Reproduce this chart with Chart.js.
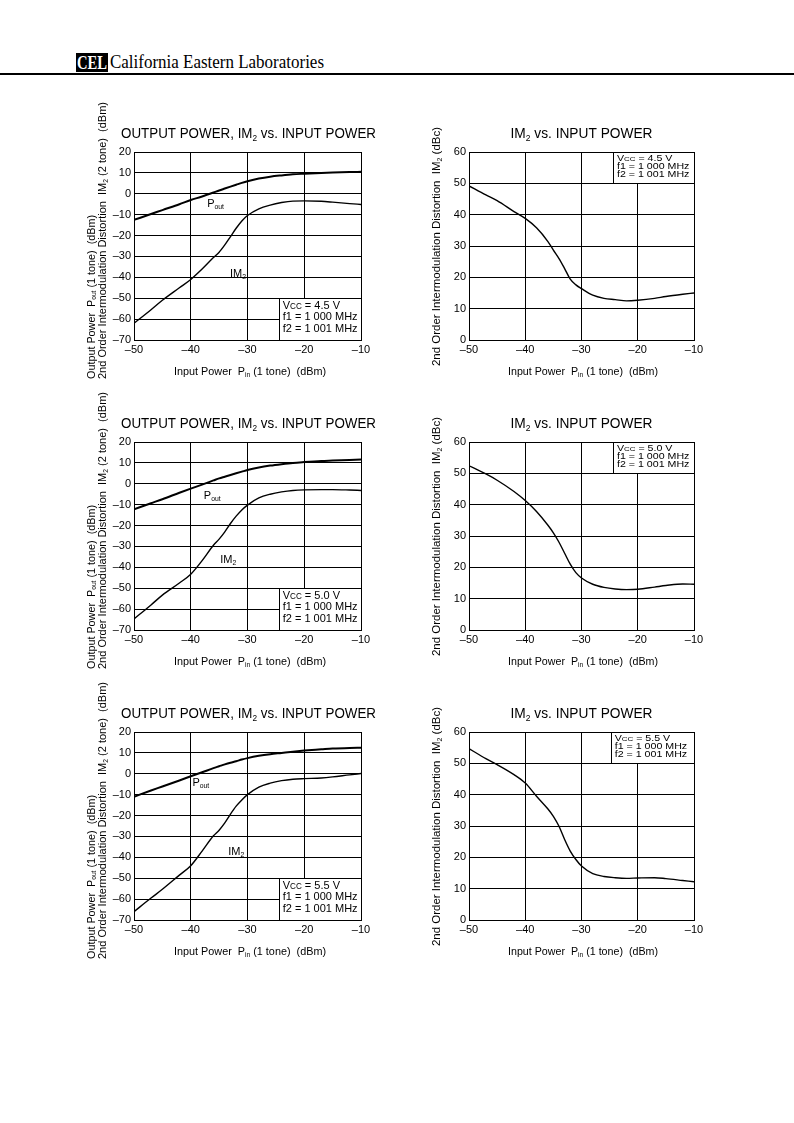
<!DOCTYPE html>
<html lang="en">
<head>
<meta charset="utf-8" />
<title>Output Power, IM2 vs. Input Power</title>
<script src="https://cdn.jsdelivr.net/npm/chart.js@4.4.0/dist/chart.umd.min.js"></script>
<style>
  body { margin: 0; background: #fff; }
  #page { position: relative; width: 794px; height: 1123px; background: #fff; overflow: hidden; }
  #cel {
    position: absolute; left: 76px; top: 53px; width: 32px; height: 19px;
    background: #000; color: #fff; overflow: hidden;
  }
  #cel span {
    position: absolute; left: 1px; top: 0; display: inline-block; white-space: nowrap;
    font: bold 18px "Liberation Serif", "DejaVu Serif", serif; line-height: 20px; transform-origin: 0 0;
  }
  #cal {
    position: absolute; left: 110px; top: 52px; white-space: nowrap;
    font: 19px "Liberation Serif", "DejaVu Serif", serif; line-height: 19px; transform-origin: 0 0;
  }
  #rule { position: absolute; left: 0; top: 73px; width: 794px; height: 1.5px; background: #000; }
  canvas { position: absolute; }
</style>
</head>
<body>
<div id="page">
  <div id="cel"><span>CEL</span></div>
  <div id="cal">California Eastern Laboratories</div>
  <div id="rule"></div>

  <canvas id="c1" width="320" height="290" style="left:80px;top:100px"></canvas>
  <canvas id="c2" width="300" height="290" style="left:420px;top:100px"></canvas>
  <canvas id="c3" width="320" height="290" style="left:80px;top:390px"></canvas>
  <canvas id="c4" width="300" height="290" style="left:420px;top:390px"></canvas>
  <canvas id="c5" width="320" height="290" style="left:80px;top:680px"></canvas>
  <canvas id="c6" width="300" height="290" style="left:420px;top:680px"></canvas>
</div>

<script>
  // input power (dBm), shared x values for every curve
  const inputPower = [-50, -47, -45, -42, -40, -38, -36, -35, -34, -33, -32, -31, -30, -28, -26, -24, -22, -20, -17, -15, -12, -10];

  // Vcc = 4.5 V
  const pout45 = [-12.5, -9.7, -7.8, -5.0, -3.0, -1.3, 0.6, 1.6, 2.5, 3.4, 4.3, 5.2, 6.0, 7.3, 8.2, 8.8, 9.3, 9.6, 10.0, 10.2, 10.4, 10.5];
  const im2dBm45 = [-62, -55.5, -51, -45, -41, -36, -30.5, -28, -24.5, -20.5, -16.5, -13, -10.4, -7.2, -5.4, -4.2, -3.5, -3.4, -3.6, -4.0, -4.7, -5.1];
  const im2dBc45 = [49.2, 46.3, 44.5, 41, 38.8, 35.8, 31.5, 28.7, 26, 22.8, 19.4, 17.6, 16.4, 14.3, 13.3, 12.9, 12.5, 12.7, 13.3, 13.9, 14.6, 15.0];

  // Vcc = 5.0 V
  const pout50 = [-12.2, -9.3, -7.4, -4.3, -2.3, -0.4, 1.6, 2.6, 3.4, 4.2, 5.0, 5.8, 6.6, 7.8, 8.7, 9.4, 10.0, 10.4, 10.9, 11.1, 11.4, 11.6];
  const im2dBm50 = [-64.7, -58, -53.3, -47.5, -43.3, -36.8, -29.4, -26.5, -23, -19, -15.5, -12.5, -10.2, -6.8, -5.0, -3.9, -3.2, -2.9, -2.8, -2.8, -3.0, -3.2];
  const im2dBc50 = [52.4, 49.8, 47.8, 44.2, 41.3, 37.8, 33.5, 31, 28, 24.5, 21, 18.3, 16.6, 14.6, 13.6, 13.1, 12.9, 13.0, 13.7, 14.2, 14.7, 14.6];

  // Vcc = 5.5 V
  const pout55 = [-11, -8, -6.1, -3.2, -1.2, 0.7, 2.7, 3.6, 4.5, 5.3, 6.0, 6.8, 7.5, 8.6, 9.4, 10.0, 10.6, 11.1, 11.7, 12.1, 12.4, 12.5];
  const im2dBm55 = [-66, -59.5, -55.3, -48.5, -44, -37, -29.7, -27, -23.5, -19.3, -15.5, -12.5, -10, -6.4, -4.5, -3.3, -2.6, -2.3, -2.0, -1.5, -0.5, 0.1];
  const im2dBc55 = [54.7, 51.5, 49.6, 46.4, 43.7, 39.5, 35.5, 33.1, 29.9, 25.7, 22, 19.3, 17.2, 14.8, 13.9, 13.5, 13.3, 13.4, 13.5, 13.2, 12.6, 12.2];

  const xTicks = [-50, -40, -30, -20, -10];
  const dBmRange = [-70, 20];
  const dBcRange = [0, 60];
  const vccValues = ['4.5', '5.0', '5.5'];
  const f1Text = 'f1 = 1 000 MHz';
  const f2Text = 'f2 = 1 001 MHz';

  const FONT = '"Liberation Sans", Arial, Helvetica, sans-serif';
  const SUB = s => '_' + s;   // subscript part
  const SML = s => '~' + s;   // small caps part

  // header text fitted to the scanned width
  const cal = document.getElementById('cal');
  cal.style.transform = 'scaleX(' + (214 / cal.getBoundingClientRect().width) + ')';
  const cel = document.querySelector('#cel span');
  cel.style.transform = 'scaleX(' + (30 / cel.getBoundingClientRect().width) + ')';

  // text with subscripts, optional rotation and width fitting
  function drawRich(ctx, parts, x, y, size, o) {
    o = o || {};
    const segs = parts.map(p => {
      const sub = p[0] === '_', sml = p[0] === '~';
      const t = (sub || sml) ? p.slice(1) : p;
      const s = sub ? size * 0.62 : sml ? size * 0.74 : size;
      ctx.font = s + 'px ' + FONT;
      return { t: t, s: s, dy: sub ? size * 0.18 : 0, w: ctx.measureText(t).width };
    });
    const w = segs.reduce((acc, g) => acc + g.w, 0);
    const sx = o.fit ? o.fit / w : (o.sx || 1);
    ctx.save();
    ctx.translate(x, y);
    if (o.rot) ctx.rotate(o.rot);
    ctx.scale(sx, 1);
    let cx = o.align === 'center' ? -w / 2 : o.align === 'right' ? -w : 0;
    ctx.fillStyle = '#000';
    ctx.textAlign = 'left';
    ctx.textBaseline = 'alphabetic';
    segs.forEach(g => {
      ctx.font = g.s + 'px ' + FONT;
      ctx.fillText(g.t, cx, g.dy);
      cx += g.w;
    });
    ctx.restore();
  }

  const fmt = v => (v < 0 ? '\u2013' + Math.abs(v) : String(v));

  function decoPlugin(spec) {
    return {
      id: 'deco',
      beforeDatasetsDraw(chart) {
        const { ctx, scales: { x, y } } = chart;
        const b = spec.box;
        const l = Math.round(x.getPixelForValue(b[0])) + 0.5;
        const r = Math.round(x.getPixelForValue(b[1])) + 0.5;
        const t = Math.round(y.getPixelForValue(b[3])) + 0.5;
        const btm = Math.round(y.getPixelForValue(b[2])) + 0.5;
        ctx.save();
        ctx.fillStyle = '#fff';
        ctx.fillRect(l, t, r - l, btm - t);
        ctx.strokeStyle = '#000';
        ctx.lineWidth = 1;
        ctx.strokeRect(l, t, r - l, btm - t);
        ctx.restore();
      },
      afterDraw(chart) {
        const { ctx, chartArea: a, scales: { x, y } } = chart;
        const mid = (a.left + a.right) / 2;
        const boxLeft = x.getPixelForValue(spec.box[0]);
        const vccLine = ['V', SML('CC'), ' = ' + spec.vcc + ' V'];
        if (spec.left) {
          drawRich(ctx, ['OUTPUT POWER, IM', SUB('2'), ' vs. INPUT POWER'], mid + 1, a.top - 14, 14, { align: 'center', fit: 255 });
          drawRich(ctx, ['Input Power  P', SUB('in'), ' (1 tone)  (dBm)'], mid + 2.5, a.bottom + 35, 11, { align: 'center', fit: 152 });
          drawRich(ctx, ['Output Power  P', SUB('out'), ' (1 tone)  (dBm)'], a.left - 39.5, a.bottom + 39, 11, { rot: -Math.PI / 2, fit: 164 });
          drawRich(ctx, ['2nd Order Intermodulation Distortion  IM', SUB('2'), ' (2 tone)  (dBm)'], a.left - 28, a.bottom + 39, 11, { rot: -Math.PI / 2, fit: 277 });
          drawRich(ctx, ['P', SUB('out')], x.getPixelForValue(spec.poutAt[0]), y.getPixelForValue(spec.poutAt[1]), 11);
          drawRich(ctx, ['IM', SUB('2')], x.getPixelForValue(spec.im2At[0]), y.getPixelForValue(spec.im2At[1]), 11);
          drawRich(ctx, vccLine, boxLeft + 4, a.bottom - 31.5, 11);
          drawRich(ctx, [f1Text], boxLeft + 4, a.bottom - 20, 11);
          drawRich(ctx, [f2Text], boxLeft + 4, a.bottom - 8.5, 11);
        } else {
          drawRich(ctx, ['IM', SUB('2'), ' vs. INPUT POWER'], mid, a.top - 14, 14, { align: 'center', fit: 142 });
          drawRich(ctx, ['Input Power  P', SUB('in'), ' (1 tone)  (dBm)'], mid + 1.5, a.bottom + 35, 11, { align: 'center', fit: 150 });
          drawRich(ctx, ['2nd Order Intermodulation Distortion  IM', SUB('2'), ' (dBc)'], a.left - 29, a.bottom + 26, 11, { rot: -Math.PI / 2, fit: 239 });
          drawRich(ctx, vccLine, boxLeft + 4, a.top + 8.8, 8.4, { sx: 1.27 });
          drawRich(ctx, [f1Text], boxLeft + 4, a.top + 17, 8.4, { sx: 1.27 });
          drawRich(ctx, [f2Text], boxLeft + 4, a.top + 25.2, 8.4, { sx: 1.27 });
        }
      }
    };
  }

  const toPts = vals => inputPower.map((p, i) => ({ x: p, y: vals[i] }));

  function makeChart(id, spec) {
    const series = spec.left
      ? [{ data: toPts(spec.pout), borderWidth: 2 }, { data: toPts(spec.im2), borderWidth: 1.4 }]
      : [{ data: toPts(spec.im2), borderWidth: 1.4 }];
    const range = spec.left ? dBmRange : dBcRange;
    return new Chart(document.getElementById(id), {
      type: 'line',
      data: {
        datasets: series.map(s => Object.assign(s, {
          borderColor: '#000', pointRadius: 0, fill: false, cubicInterpolationMode: 'monotone'
        }))
      },
      options: {
        responsive: false,
        animation: false,
        devicePixelRatio: 1,
        layout: { padding: { left: 0, top: 52, right: spec.left ? 39 : 26, bottom: 0 } },
        plugins: { legend: { display: false }, tooltip: { enabled: false }, title: { display: false } },
        scales: {
          x: {
            type: 'linear', min: xTicks[0], max: xTicks[xTicks.length - 1],
            afterBuildTicks: s => { s.ticks = xTicks.map(v => ({ value: v })); },
            afterFit: s => { s.height = 50; },
            ticks: { color: '#000', font: { family: FONT, size: 11 }, padding: 3, maxRotation: 0, callback: fmt },
            grid: { color: '#000', lineWidth: 1, drawTicks: false },
            border: { color: '#000', width: 1 }
          },
          y: {
            type: 'linear', min: range[0], max: range[1],
            ticks: { stepSize: 10, color: '#000', font: { family: FONT, size: 11 }, padding: 3, callback: fmt },
            afterFit: s => { s.width = spec.left ? 54 : 49; },
            grid: { color: '#000', lineWidth: 1, drawTicks: false },
            border: { color: '#000', width: 1 }
          }
        }
      },
      plugins: [decoPlugin(spec)]
    });
  }

  makeChart('c1', { left: true, vcc: vccValues[0], pout: pout45, im2: im2dBm45, box: [-24.5, -10, -70, -50], poutAt: [-37.1, -6.3], im2At: [-33.1, -39.8] });
  makeChart('c2', { left: false, vcc: vccValues[0], im2: im2dBc45, box: [-24.4, -10, 50, 60] });
  makeChart('c3', { left: true, vcc: vccValues[1], pout: pout50, im2: im2dBm50, box: [-24.5, -10, -70, -50], poutAt: [-37.7, -7.1], im2At: [-34.8, -37.9] });
  makeChart('c4', { left: false, vcc: vccValues[1], im2: im2dBc50, box: [-24.4, -10, 50, 60] });
  makeChart('c5', { left: true, vcc: vccValues[2], pout: pout55, im2: im2dBm55, box: [-24.5, -10, -70, -50], poutAt: [-39.7, -6.0], im2At: [-33.4, -38.8] });
  makeChart('c6', { left: false, vcc: vccValues[2], im2: im2dBc55, box: [-24.8, -10, 50, 60] });
</script>
</body>
</html>
